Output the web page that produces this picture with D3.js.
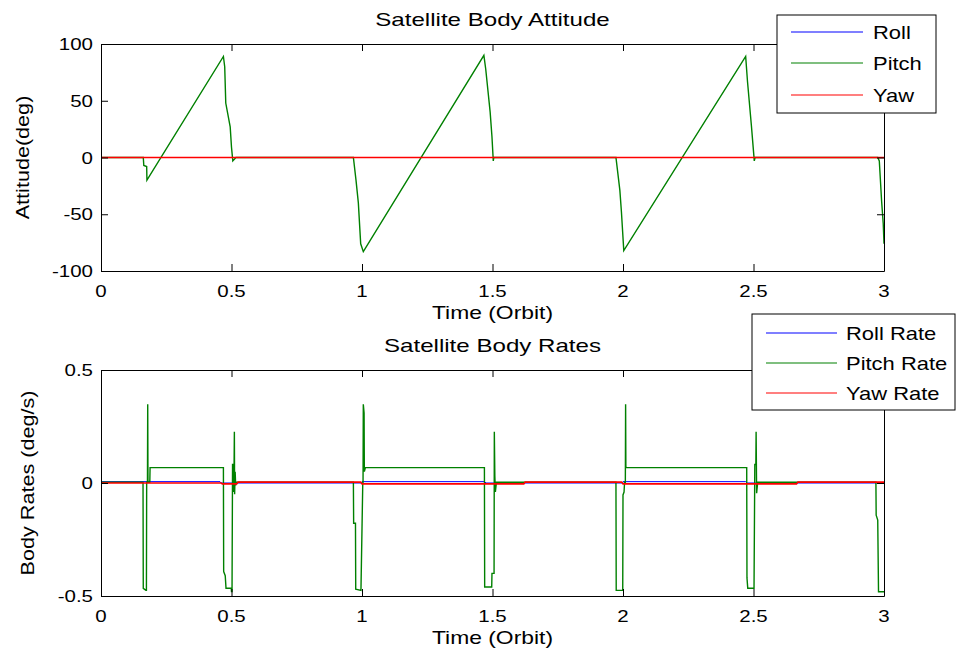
<!DOCTYPE html>
<meta charset="utf-8">
<script src="https://d3js.org/d3.v7.min.js"></script>
<style>
  body { margin: 0; background: #fff; }
  text { font-family: "Liberation Sans", Arial, sans-serif; fill: #000; }
</style>
<div id="chart"></div>
<script>

// ---- data (time in orbits) ----
var xTicks = [0, 0.5, 1, 1.5, 2, 2.5, 3];
var attTicks = [-100, -50, 0, 50, 100];
var rateTicks = [-0.5, 0, 0.5];

var attLegend = ["Roll", "Pitch", "Yaw"];
var rateLegend = ["Roll Rate", "Pitch Rate", "Yaw Rate"];
var colors = ["#0000ff", "#008000", "#ff0000"];
var widths = [1.0, 1.4, 1.6];

var rollAtt = [[0, 0], [3, 0]];
var yawAtt = [[0, 0], [3, 0]];
var pitchAtt = [
  [0, 0], [0.162, 0], [0.164, -7], [0.175, -8], [0.176, -20], [0.469, 89],
  [0.474, 80], [0.478, 48], [0.495, 27], [0.5, 9], [0.505, -3], [0.517, 0],
  [0.967, 0], [0.977, -20], [0.986, -40], [0.995, -76], [1.005, -83], [1.467, 90],
  [1.474, 78], [1.491, 40], [1.498, 18], [1.503, -3], [1.505, 0],
  [1.973, 0], [1.988, -29], [1.994, -48], [2.003, -82], [2.47, 89],
  [2.477, 67], [2.492, 28], [2.503, -3], [2.506, 0],
  [2.976, 0], [2.982, -3], [2.991, -39], [2.997, -58], [3.0, -76]
];

var rollRate = [
  [0, 0.006], [0.456, 0.006], [0.46, 0], [0.998, 0], [1.0, 0.006], [1.47, 0.006],
  [1.475, 0], [1.998, 0], [2.0, 0.006], [2.47, 0.006], [2.475, 0], [3, 0]
];
var yawRate = [
  [0, 0], [0.46, 0], [0.465, -0.004], [0.52, -0.004], [0.525, 0.004], [0.995, 0.004],
  [1.0, -0.004], [1.62, -0.004], [1.625, 0.004], [1.995, 0.004], [2.0, -0.004],
  [2.665, -0.004], [2.67, 0.004], [3, 0.004]
];
var pitchRate = [
  [0, 0.003], [0.161, 0.003], [0.162, -0.466], [0.172, -0.475], [0.174, -0.475],
  [0.175, 0.003], [0.178, 0.003], [0.179, 0.348], [0.18, 0.003], [0.187, 0.003],
  [0.188, 0.068], [0.469, 0.068], [0.47, -0.392], [0.476, -0.41], [0.479, -0.466],
  [0.499, -0.466], [0.5, -0.48], [0.502, -0.48], [0.504, 0.082], [0.508, 0.082],
  [0.509, -0.04], [0.511, 0.227], [0.512, -0.05], [0.514, 0.05], [0.516, -0.01],
  [0.52, 0.003], [0.967, 0.003], [0.968, -0.178], [0.975, -0.178], [0.976, -0.47],
  [0.996, -0.475], [1.003, 0.003], [1.004, 0.003], [1.005, 0.348], [1.008, 0.31],
  [1.009, 0.05], [1.013, 0.068], [1.469, 0.068], [1.47, -0.46], [1.497, -0.46],
  [1.498, -0.4], [1.506, -0.4], [1.507, 0.227], [1.509, 0.03], [1.511, -0.04],
  [1.515, 0.003], [1.973, 0.003], [1.974, -0.475], [1.999, -0.475], [2.0, -0.053],
  [2.004, -0.04], [2.006, 0.003], [2.009, 0.003], [2.01, 0.348], [2.011, 0.07],
  [2.014, 0.068], [2.474, 0.068], [2.475, -0.42], [2.478, -0.466], [2.502, -0.466],
  [2.505, 0.082], [2.509, 0.082], [2.51, 0.227], [2.512, -0.045], [2.516, 0.003],
  [2.969, 0.003], [2.97, -0.142], [2.976, -0.164], [2.979, -0.481], [3.0, -0.481]
];

// ---- layout ----
var W = 959, H = 652;
var left = 101, right = 884;

var svg = d3.select("#chart").append("svg")
    .attr("width", W)
    .attr("height", H);

// text is stretched horizontally like the original bitmap fonts
function addText(g, x, y, str, size, sx, anchor, rot) {
  return g.append("text")
    .attr("transform", "translate(" + x + "," + y + ")" + (rot ? " rotate(-90)" : "") + " scale(" + sx + ",1)")
    .attr("text-anchor", anchor || "middle")
    .style("font-size", size + "px")
    .text(str);
}

function drawPanel(opt) {
  var x = d3.scaleLinear().domain([0, 3]).range([left, right]);
  var y = d3.scaleLinear().domain(opt.domain).range([opt.bottom, opt.top]);
  var g = svg.append("g");

  var clipId = "clip" + opt.id;
  svg.append("clipPath").attr("id", clipId)
    .append("rect")
      .attr("x", left).attr("y", opt.top)
      .attr("width", right - left).attr("height", opt.bottom - opt.top);

  var line = d3.line()
      .x(function(d) { return x(d[0]); })
      .y(function(d) { return y(d[1]); });

  var lines = g.append("g").attr("clip-path", "url(#" + clipId + ")");
  opt.series.forEach(function(s, i) {
    lines.append("path")
      .datum(s)
      .attr("fill", "none")
      .attr("stroke", colors[i])
      .attr("stroke-width", widths[i])
      .attr("d", line);
  });

  // axes with inside ticks, box style
  var tl = 7;
  g.append("g").attr("transform", "translate(0," + opt.bottom + ")")
    .call(d3.axisBottom(x).tickValues(xTicks).tickSizeInner(-tl).tickSizeOuter(0).tickFormat(""));
  g.append("g").attr("transform", "translate(0," + opt.top + ")")
    .call(d3.axisTop(x).tickValues(xTicks).tickSizeInner(-tl).tickSizeOuter(0).tickFormat(""));
  g.append("g").attr("transform", "translate(" + left + ",0)")
    .call(d3.axisLeft(y).tickValues(opt.ticks).tickSizeInner(-tl).tickSizeOuter(0).tickFormat(""));
  g.append("g").attr("transform", "translate(" + right + ",0)")
    .call(d3.axisRight(y).tickValues(opt.ticks).tickSizeInner(-tl).tickSizeOuter(0).tickFormat(""));
  g.selectAll(".domain").attr("stroke", "#000");
  g.selectAll(".tick line").attr("stroke", "#000");

  // tick labels
  xTicks.forEach(function(t) {
    addText(g, x(t), opt.bottom + 26, String(t), 16, 1.28);
  });
  opt.ticks.forEach(function(t) {
    addText(g, left - 8, y(t) + 6, String(t), 16, 1.28, "end");
  });

  addText(g, (left + right) / 2, opt.top - 18, opt.title, 18, 1.34);
  addText(g, (left + right) / 2, opt.bottom + 47.5, "Time (Orbit)", 18, 1.27);
  addText(g, opt.ylabX, (opt.top + opt.bottom) / 2, opt.ylabel, 18, 1.2, "middle", true);

  // legend
  var L = opt.legend;
  svg.append("rect")
    .attr("x", L.x0).attr("y", L.y0)
    .attr("width", L.x1 - L.x0).attr("height", L.y1 - L.y0)
    .attr("fill", "#fff").attr("stroke", "#000").attr("stroke-width", 1);
  L.labels.forEach(function(lab, i) {
    var ly = L.rows[i];
    svg.append("line")
      .attr("x1", L.lx0).attr("x2", L.lx1)
      .attr("y1", ly).attr("y2", ly)
      .attr("stroke", colors[i]).attr("stroke-width", 1.2);
    addText(svg, L.tx, ly + 6.5, lab, 18, 1.22, "start");
  });
}

drawPanel({
  id: 1, top: 44, bottom: 271, domain: [-100, 100], ticks: attTicks,
  series: [rollAtt, pitchAtt, yawAtt],
  title: "Satellite Body Attitude", ylabel: "Attitude(deg)", ylabX: 29,
  legend: { x0: 777, x1: 936, y0: 15, y1: 113, rows: [32, 63, 95],
            lx0: 791, lx1: 863, tx: 873, labels: attLegend }
});

drawPanel({
  id: 2, top: 370, bottom: 596, domain: [-0.5, 0.5], ticks: rateTicks,
  series: [rollRate, pitchRate, yawRate],
  title: "Satellite Body Rates", ylabel: "Body Rates (deg/s)", ylabX: 34,
  legend: { x0: 752, x1: 955, y0: 314, y1: 410, rows: [333, 363, 393],
            lx0: 766, lx1: 837, tx: 846, labels: rateLegend }
});

</script>
